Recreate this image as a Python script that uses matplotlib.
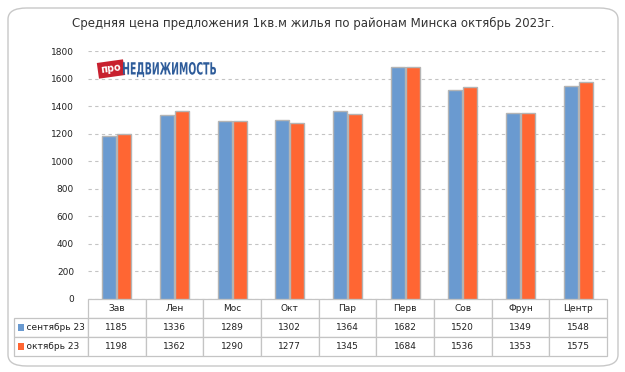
import matplotlib.pyplot as plt
from matplotlib.patches import FancyBboxPatch, Rectangle, PathPatch
from matplotlib.textpath import TextPath
from matplotlib.font_manager import FontProperties
from matplotlib.transforms import Affine2D, IdentityTransform
import numpy as np

districts = ["Зав", "Лен", "Мос", "Окт", "Пар", "Перв", "Сов", "Фрун", "Центр"]
sep_23 = [1185, 1336, 1289, 1302, 1364, 1682, 1520, 1349, 1548]
oct_23 = [1198, 1362, 1290, 1277, 1345, 1684, 1536, 1353, 1575]
series_names = ["сентябрь 23", "октябрь 23"]
y_ticks = [0, 200, 400, 600, 800, 1000, 1200, 1400, 1600, 1800]

blue = "#6A9AD0"
orange = "#FF6633"
grid_grey = "#C4C4C4"

W, H = 625, 372
fig = plt.figure(figsize=(W / 100, H / 100), dpi=100)
plt.rcParams["font.family"] = ["DejaVu Sans"]

# rounded outer frame
frame = FancyBboxPatch((8 / W, 6 / H), 610 / W, 358 / H,
                       boxstyle="round,pad=0,rounding_size=0.03",
                       transform=fig.transFigure, facecolor="white",
                       edgecolor="#C8C8C8", linewidth=1.0, zorder=-10)
fig.patches.append(frame)

ax = fig.add_axes([88 / W, (H - 299) / H, (607 - 88) / W, (299 - 51) / H])
ax.set_facecolor("none")
x = np.arange(len(districts))
w = 0.245
ax.bar(x - 0.13, sep_23, width=w, color=blue, edgecolor="#B4B4B4", linewidth=1.0, zorder=3)
ax.bar(x + 0.13, oct_23, width=w, color=orange, edgecolor="#B4B4B4", linewidth=1.0, zorder=3)

ax.set_xlim(-0.5, len(districts) - 0.5)
ax.set_ylim(0, 1800)
ax.set_yticks(y_ticks)
ax.set_yticklabels([str(v) for v in y_ticks], fontsize=6.5, color="#222222")
ax.tick_params(axis="y", length=0, pad=10)
ax.set_xticks([])
ax.yaxis.grid(True, linestyle=(0, (3, 3)), color=grid_grey, linewidth=0.8, zorder=0)
for s in ax.spines.values():
    s.set_visible(False)

# data table under the chart (first column holds the series names)
cell_text = [["    " + series_names[0]] + [str(v) for v in sep_23],
             ["    " + series_names[1]] + [str(v) for v in oct_23]]
col_labels = [""] + districts
label_w = 74.0
cat_w = (607 - 88) / len(districts)
col_widths = [label_w] + [cat_w] * len(districts)
total_w = sum(col_widths)
ax_w = 607 - 88
ax_h = 299 - 51
tbl = ax.table(cellText=cell_text, colLabels=col_labels, cellLoc="center",
               colWidths=[c / total_w for c in col_widths],
               bbox=[-label_w / ax_w, -(356 - 299) / ax_h, total_w / ax_w, (356 - 299) / ax_h])
tbl.auto_set_font_size(False)
tbl.set_fontsize(6.5)
for (r, c), cell in tbl.get_celld().items():
    cell.set_edgecolor(grid_grey)
    cell.set_linewidth(0.9)
    cell.get_text().set_color("#222222")
    if c == 0:
        cell.get_text().set_ha("left")
        cell.PAD = 0.02
    if r == 0 and c == 0:
        cell.visible_edges = ""

# legend keys inside row-label cells
for i, col in enumerate([blue, orange]):
    yc = (H - (327.5 + 19 * i)) / H
    fig.patches.append(Rectangle((18 / W, yc - 3.5 / H), 6 / W, 7 / H,
                                 transform=fig.transFigure, facecolor=col,
                                 edgecolor="none", zorder=10))

fig.text(313 / W, (H - 23) / H,
         "Средняя цена предложения 1кв.м жилья по районам Минска октябрь 2023г.",
         ha="center", va="center", fontsize=8.5, color="#333333")

# logo: red "про" tag + condensed blue wordmark
fig.text(111 / W, (H - 69) / H, "про", ha="center", va="center",
         fontsize=7, color="white", fontweight="bold", rotation=8,
         bbox=dict(boxstyle="square,pad=0.3", facecolor="#C8202E", edgecolor="none"))
tp = TextPath((0, 0), "НЕДВИЖИМОСТЬ", size=10,
              prop=FontProperties(family="DejaVu Sans", weight="bold"))
ext = tp.get_extents()
sx = 93 / ext.width
sy = 12.5 / ext.y1
word_tf = (Affine2D().translate(-ext.x0, 0).scale(sx, sy)
           .translate(123, H - 74.5) + IdentityTransform())
fig.patches.append(PathPatch(tp, transform=word_tf, facecolor="#2E5C9A",
                             edgecolor="none", zorder=10))

fig.savefig("out.png", dpi=100)
